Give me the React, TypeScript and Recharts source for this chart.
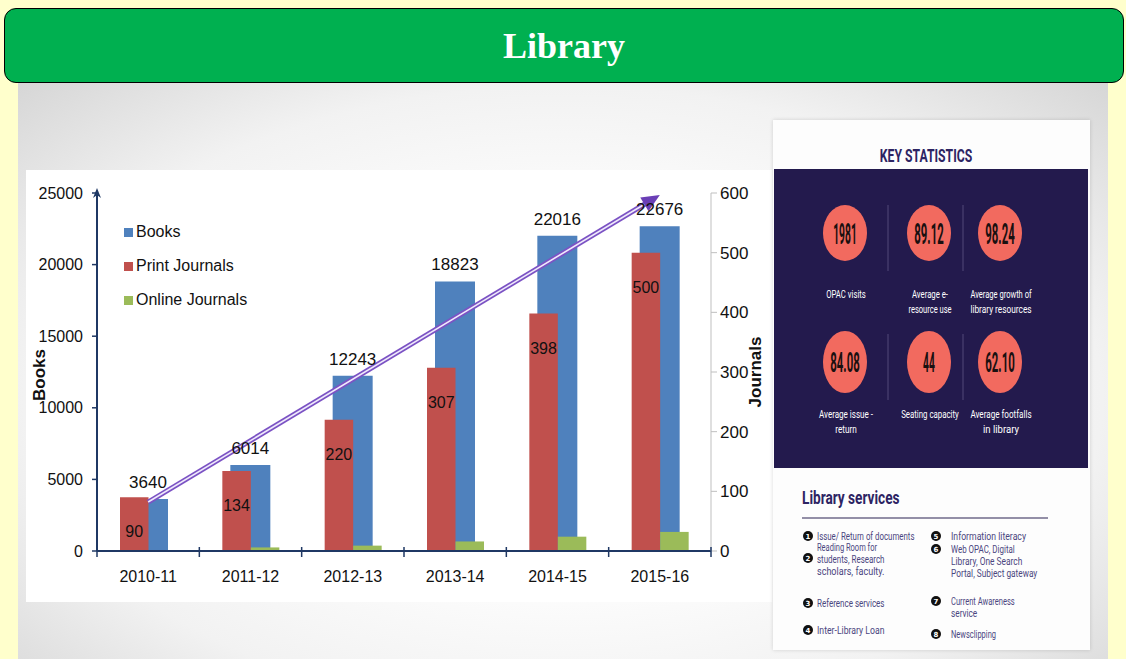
import { BarChart, Bar, XAxis, YAxis, Legend, LabelList, ReferenceLine } from "recharts";

const YEARS = ["2010-11", "2011-12", "2012-13", "2013-14", "2014-15", "2015-16"];
const BOOKS = [3640, 6014, 12243, 18823, 22016, 22676];
const PRINT_JOURNALS = [90, 134, 220, 307, 398, 500];
const ONLINE_JOURNALS = [1, 6, 9, 16, 24, 32];
const BOOKS_TICKS = [0, 5000, 10000, 15000, 20000, 25000];
const JOURNAL_TICKS = [0, 100, 200, 300, 400, 500, 600];
// the purple growth arrow
const ARROW_FROM = 3420;
const ARROW_TO = 24860;

const SERIES = [
  { key: "books", name: "Books", color: "#4f81bd" },
  { key: "print", name: "Print Journals", color: "#c0504d" },
  { key: "online", name: "Online Journals", color: "#9bbb59" },
];

const STATS_TOP = [
  { value: "1981", label: ["OPAC visits"] },
  { value: "89.12", label: ["Average e-", "resource use"] },
  { value: "98.24", label: ["Average growth of", "library resources"] },
];
const STATS_BOTTOM = [
  { value: "84.08", label: ["Average issue -", "return"] },
  { value: "44", label: ["Seating capacity"] },
  { value: "62.10", label: ["Average footfalls", "in library"] },
];
const SERVICES_LEFT = [
  ["Issue/ Return of documents"],
  ["Reading Room for", "students, Research", "scholars, faculty."],
  ["Reference services"],
  ["Inter-Library Loan"],
];
const SERVICES_RIGHT = [
  ["Information literacy"],
  ["Web OPAC, Digital", "Library, One Search", "Portal, Subject gateway"],
  ["Current Awareness", "service"],
  ["Newsclipping"],
];

const data = YEARS.map((year, i) => ({
  year,
  books: BOOKS[i],
  print: PRINT_JOURNALS[i],
  online: ONLINE_JOURNALS[i],
}));

const FONT = "'Liberation Sans', Arial, sans-serif";
const NAVY = "#1f3864";
const INK = "#2d2463";

function YearTick(props: any) {
  const { x, y, payload, index } = props;
  const half = payload?.offset ?? 51;
  return (
    <g>
      <line x1={x - half} x2={x - half} y1={y - 4} y2={y + 6} stroke={NAVY} strokeWidth={1.5} />
      {index === YEARS.length - 1 && (
        <line x1={x + half} x2={x + half} y1={y - 4} y2={y + 6} stroke={NAVY} strokeWidth={1.5} />
      )}
      <text x={x} y={y + 31} textAnchor="middle" fontSize={16} fill="#111" fontFamily={FONT}>
        {payload.value}
      </text>
    </g>
  );
}

function BooksTitle(props: any) {
  const vb = props.viewBox ?? {};
  const ax = vb.x + vb.width;
  const top = vb.y;
  const cx = vb.x + 13;
  const cy = top + vb.height / 2 + 3;
  return (
    <g>
      <polygon points={`${ax},${top - 5} ${ax - 4},${top + 5} ${ax},${top + 2} ${ax + 4},${top + 5}`} fill={NAVY} />
      <text
        x={cx}
        y={cy}
        transform={`rotate(-90 ${cx} ${cy})`}
        textAnchor="middle"
        dominantBaseline="central"
        fontSize={17}
        fontWeight="bold"
        fill="#111"
        fontFamily={FONT}
      >
        Books
      </text>
    </g>
  );
}

function JournalsTitle(props: any) {
  const vb = props.viewBox ?? {};
  const cx = vb.x + vb.width - 17;
  const cy = vb.y + vb.height / 2;
  return (
    <text
      x={cx}
      y={cy}
      transform={`rotate(-90 ${cx} ${cy})`}
      textAnchor="middle"
      dominantBaseline="central"
      fontSize={17}
      fontWeight="bold"
      fill="#111"
      fontFamily={FONT}
    >
      Journals
    </text>
  );
}

function BooksValue(props: any) {
  const { x, y, width, value } = props;
  return (
    <text x={Number(x) + Number(width) / 2} y={Number(y) - 11} textAnchor="middle" fontSize={17} fill="#111" fontFamily={FONT}>
      {value}
    </text>
  );
}

function PrintValue(props: any) {
  const { x, y, width, value } = props;
  return (
    <text x={Number(x) + Number(width) / 2} y={Number(y) + 40} textAnchor="middle" fontSize={16} fill="#111" fontFamily={FONT}>
      {value}
    </text>
  );
}

function TrendArrow(props: any) {
  const x1 = Number(props.x1);
  const y1 = Number(props.y1);
  const x2 = Number(props.x2);
  const y2 = Number(props.y2);
  const ang = Math.atan2(y2 - y1, x2 - x1);
  const head = 18;
  const hw = 8;
  const bx = x2 - head * Math.cos(ang);
  const by = y2 - head * Math.sin(ang);
  const px = -Math.sin(ang);
  const py = Math.cos(ang);
  const pts = `${x2},${y2} ${bx + px * hw},${by + py * hw} ${bx - px * hw},${by - py * hw}`;
  const ex = bx + 2 * Math.cos(ang);
  const ey = by + 2 * Math.sin(ang);
  return (
    <g>
      <line x1={x1} y1={y1} x2={ex} y2={ey} stroke="#7b52c4" strokeWidth={5} />
      <line x1={x1} y1={y1} x2={ex} y2={ey} stroke="#efeafb" strokeWidth={1.6} />
      <polygon points={pts} fill="#6a3fb6" />
    </g>
  );
}

function LegendBox(props: any) {
  const items = [...(props.payload ?? [])].sort(
    (a: any, b: any) => SERIES.findIndex((s) => s.name === a.value) - SERIES.findIndex((s) => s.name === b.value)
  );
  return (
    <div style={{ fontFamily: FONT, fontSize: 16, color: "#111" }}>
      {items.map((it: any) => (
        <div key={it.value} style={{ display: "flex", alignItems: "center", height: 34 }}>
          <span style={{ width: 9, height: 9, background: it.color, marginRight: 3, display: "inline-block" }} />
          <span>{it.value}</span>
        </div>
      ))}
    </div>
  );
}

function Narrow({ x, y, text, size, perChar, weight, fill, anchor }: any) {
  return (
    <text
      x={x}
      y={y}
      fontSize={size}
      fontWeight={weight ?? "normal"}
      fill={fill}
      textAnchor={anchor ?? "middle"}
      textLength={text.length * perChar}
      lengthAdjust="spacingAndGlyphs"
      fontFamily="'Roboto', 'DejaVu Sans', sans-serif"
    >
      {text}
    </text>
  );
}

const COL_X = [845, 929, 1000];

function StatsRow({ items, cy, ry, labelY, numSize }: any) {
  return (
    <g>
      {[888, 963].map((sx) => (
        <line key={sx} x1={sx} x2={sx} y1={cy - 28} y2={cy + 38} stroke="#4a4272" strokeWidth={1.2} />
      ))}
      {items.map((it: any, i: number) => (
        <g key={it.value}>
          <ellipse cx={COL_X[i]} cy={cy} rx={22} ry={ry} fill="#f26a5f" />
          <Narrow x={COL_X[i]} y={cy + numSize * 0.36} text={it.value} size={numSize} perChar={5.9} weight="bold" fill="#1a1010" />
          {it.label.map((l: string, j: number) => (
            <Narrow key={l} x={COL_X[i] + 1} y={labelY + j * 15} text={l} size={10} perChar={3.6} fill="#ffffff" />
          ))}
        </g>
      ))}
    </g>
  );
}

function ServiceList({ items, num0, bx, tx, tops, midBullet }: any) {
  return (
    <g>
      {items.map((lines: string[], i: number) => {
        const t = tops[i];
        const by = lines.length === 3 && midBullet ? t + 11 : t;
        return (
          <g key={i}>
            <circle cx={bx} cy={by} r={5} fill="#111" />
            <text x={bx} y={by + 2.5} fontSize={7} fill="#fff" textAnchor="middle" fontFamily="'DejaVu Sans', sans-serif" fontWeight="bold">
              {num0 + i}
            </text>
            {lines.map((l, j) => (
              <Narrow key={l} x={tx} y={t + 3.5 + j * 12} text={l} size={10} perChar={3.75} fill="#4b4680" anchor="start" />
            ))}
          </g>
        );
      })}
    </g>
  );
}

function RightPanel() {
  return (
    <svg
      width={317}
      height={530}
      viewBox="773 120 317 530"
      style={{ position: "absolute", left: 773, top: 120, boxShadow: "0 0 4px rgba(0,0,0,0.15)" }}
    >
      <rect x={773} y={120} width={317} height={530} fill="#fdfdfd" />
      <Narrow x={926} y={162} text="KEY STATISTICS" size={18} perChar={6.6} weight="bold" fill={INK} />
      <rect x={774} y={169} width={314} height={299} fill="#231a4d" />
      <StatsRow items={STATS_TOP} cy={233} ry={28} labelY={298} numSize={30} />
      <StatsRow items={STATS_BOTTOM} cy={362} ry={31} labelY={418} numSize={27} />
      <Narrow x={802} y={504} text="Library services" size={19} perChar={6.1} weight="bold" fill={INK} anchor="start" />
      <line x1={802} x2={1048} y1={518} y2={518} stroke="#6f6a8a" strokeWidth={1.5} />
      <ServiceList items={SERVICES_LEFT} num0={1} bx={808} tx={817} tops={[536, 547, 603, 630]} midBullet />
      <ServiceList items={SERVICES_RIGHT} num0={5} bx={936} tx={951} tops={[536, 549, 601, 634]} />
    </svg>
  );
}

export default function App() {
  return (
    <div style={{ position: "absolute", left: 0, top: 0, width: 1126, height: 659, background: "#ffffcc", overflow: "hidden" }}>
      <div
        style={{
          position: "absolute",
          left: 18,
          top: 83,
          width: 1090,
          height: 576,
          background: "radial-gradient(ellipse at 50% 55%, #ffffff 35%, #f2f2f2 70%, #d6d6d6 100%)",
        }}
      />
      <div
        style={{
          position: "absolute",
          left: 4,
          top: 8,
          width: 1120,
          height: 75,
          boxSizing: "border-box",
          border: "1.5px solid #000",
          borderRadius: 12,
          background: "#00b050",
          display: "flex",
          alignItems: "center",
          justifyContent: "center",
          color: "#fff",
          fontFamily: "'Liberation Serif', 'Times New Roman', serif",
          fontWeight: "bold",
          fontSize: 36,
        }}
      >
        Library
      </div>
      <div style={{ position: "absolute", left: 26, top: 170, width: 746, height: 432, background: "#fff" }}>
        <BarChart width={746} height={432} data={data} barGap={0} margin={{ top: 23, right: 0, bottom: 0, left: 0 }}>
          <XAxis
            xAxisId="main"
            dataKey="year"
            height={51}
            interval={0}
            axisLine={{ stroke: NAVY, strokeWidth: 2 }}
            tickLine={false}
            tickSize={0}
            tickMargin={0}
            tick={<YearTick />}
          />
          <XAxis xAxisId="books" dataKey="year" hide height={0} />
          <YAxis
            yAxisId="left"
            width={71}
            domain={[0, 25000]}
            ticks={BOOKS_TICKS}
            interval={0}
            axisLine={{ stroke: NAVY, strokeWidth: 2 }}
            tickLine={{ stroke: NAVY, strokeWidth: 1.5 }}
            tickSize={5}
            tickMargin={9}
            tick={{ fontSize: 16, fill: "#111", fontFamily: FONT }}
            label={BooksTitle}
          />
          <YAxis
            yAxisId="right"
            orientation="right"
            width={61}
            domain={[0, 600]}
            ticks={JOURNAL_TICKS}
            interval={0}
            axisLine={{ stroke: "#bfbfbf" }}
            tickLine={{ stroke: "#bfbfbf" }}
            tickSize={6}
            tickMargin={3}
            tick={{ fontSize: 17, fill: "#111", fontFamily: FONT }}
            label={JournalsTitle}
          />
          <Bar dataKey="books" name="Books" xAxisId="books" yAxisId="left" fill={SERIES[0].color} barSize={40} isAnimationActive={false}>
            <LabelList dataKey="books" content={BooksValue} />
          </Bar>
          <Bar dataKey="print" name="Print Journals" xAxisId="main" yAxisId="right" fill={SERIES[1].color} barSize={28.5} isAnimationActive={false}>
            <LabelList dataKey="print" content={PrintValue} />
          </Bar>
          <Bar dataKey="online" name="Online Journals" xAxisId="main" yAxisId="right" fill={SERIES[2].color} barSize={28.5} isAnimationActive={false} />
          <ReferenceLine
            xAxisId="main"
            yAxisId="left"
            segment={[
              { x: YEARS[0], y: ARROW_FROM },
              { x: YEARS[YEARS.length - 1], y: ARROW_TO },
            ]}
            shape={TrendArrow}
          />
          <Legend
            layout="vertical"
            align="center"
            verticalAlign="middle"
            content={LegendBox}
            wrapperStyle={{ left: 98, top: 45, width: "auto", height: "auto" }}
          />
        </BarChart>
      </div>
      <RightPanel />
    </div>
  );
}
